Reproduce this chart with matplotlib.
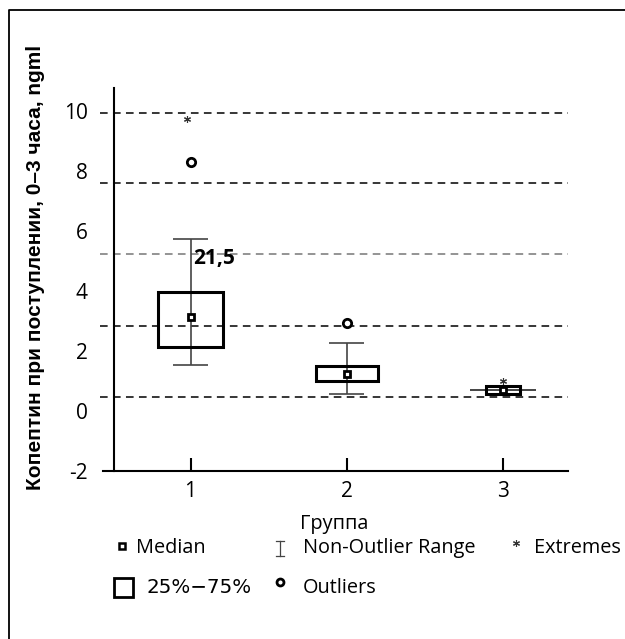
"""Копептин при поступлении по группам - box plot в стиле Statistica."""

import matplotlib

matplotlib.use("Agg")
import matplotlib.pyplot as plt
from matplotlib.patches import Rectangle

plt.rcParams["font.family"] = ["Open Sans", "DejaVu Sans"]

# --- данные ---
GROUPS = [1, 2, 3]
MEDIAN = [3.14, 1.24, 0.70]
Q1 = [2.14, 1.00, 0.57]
Q3 = [3.98, 1.51, 0.84]
WHISK_LO = [1.54, 0.57, 0.70]
WHISK_HI = [5.75, 2.27, 0.70]
OUTLIERS = [[8.29], [2.94], []]
EXTREMES = [[9.73], [], [1.00]]

Y_TICKS = [10, 8, 6, 4, 2, 0, -2]
Y_TICK_LABELS = ["10", "8", "6", "4", "2", "0", "-2"]
GRID_Y = [9.93, 7.59, 5.22, 2.84, 0.47]

ANNOT_TEXT = "21,5"
ANNOT_X = 1.016
ANNOT_Y = 5.08

Y_LABEL = "Копептин при поступлении, 0–3 часа, ngml"
X_LABEL = "Группа"

# стиль (не данные)
BOX_W = [0.41, 0.40, 0.22]
CAP_W = [0.224, 0.224, 0.42]
EXT_DX = [-0.02, 0.0, 0.0]
GRID_COLORS = ["black", "black", "#777777", "black", "black"]


def draw_boxes(ax):
    for i, x in enumerate(GROUPS):
        # вертикальная линия усов проходит сквозь ящик
        ax.vlines(x, WHISK_LO[i], WHISK_HI[i], color="#444444", lw=1.2, zorder=2)
        for yv in (WHISK_LO[i], WHISK_HI[i]):
            ax.hlines(yv, x - CAP_W[i] / 2, x + CAP_W[i] / 2,
                      color="#444444", lw=1.2, zorder=2)
        ax.add_patch(Rectangle((x - BOX_W[i] / 2, Q1[i]), BOX_W[i], Q3[i] - Q1[i],
                               fill=False, edgecolor="black", lw=2.2, zorder=3))
        ax.plot(x, MEDIAN[i], marker="s", ms=5, mew=2, mec="black", mfc="white",
                ls="none", zorder=4)
        if OUTLIERS[i]:
            ax.plot([x] * len(OUTLIERS[i]), OUTLIERS[i], marker="o", ms=6, mew=2,
                    mec="black", mfc="white", ls="none", zorder=4)
        if EXTREMES[i]:
            ax.plot([x + EXT_DX[i]] * len(EXTREMES[i]), EXTREMES[i],
                    marker=(6, 2, 0), ms=5, mew=0.8, color="#333333",
                    ls="none", zorder=4)


def draw_legend(fig):
    # легенда в пиксельных координатах всей картинки
    lg = fig.add_axes([0, 0, 1, 1])
    lg.set_xlim(0, 625)
    lg.set_ylim(639, 0)
    lg.axis("off")

    # рамка слева и сверху
    lg.plot([9, 9, 625], [639, 10, 10], color="black", lw=1.3, clip_on=False)

    fs = 14.3
    lg.plot(121.5, 546, marker="s", ms=4.5, mew=1.8, mec="black", mfc="white")
    lg.text(136, 553, "Median", fontsize=fs, va="baseline")

    lg.plot([280, 280], [541, 556], color="#444444", lw=0.9)
    lg.plot([276, 284], [541, 541], color="#444444", lw=0.9)
    lg.plot([276, 284], [556, 556], color="#444444", lw=0.9)
    lg.text(303, 553, "Non-Outlier Range", fontsize=fs, va="baseline")

    lg.plot(516, 543, marker=(6, 2, 0), ms=5, mew=0.8, color="#333333")
    lg.text(534, 553, "Extremes", fontsize=fs, va="baseline")

    lg.add_patch(Rectangle((114, 578), 19, 19, fill=False, edgecolor="black", lw=2))
    lg.text(146, 593, "25%−75%", fontsize=fs, va="baseline",
            family=["DejaVu Sans"])

    lg.plot(280, 582, marker="o", ms=5, mew=2, mec="black", mfc="white")
    lg.text(303, 593, "Outliers", fontsize=fs, va="baseline")


def main() -> None:
    fig = plt.figure(figsize=(6.25, 6.39), dpi=100)
    ax = fig.add_axes([0.16, 0.2629, 0.7488, 0.5994])
    ax.set_xlim(0.4208, 3.416)
    ax.set_ylim(-2, 10.77)

    ax.hlines(GRID_Y, 0.4208, 3.416, colors=GRID_COLORS, lw=1.1,
              linestyles=[(0, (5, 3.5))], zorder=1)

    draw_boxes(ax)

    ax.text(ANNOT_X, ANNOT_Y, ANNOT_TEXT, fontsize=15, fontweight="bold",
            va="center", ha="left", zorder=5)

    for s in ("top", "right"):
        ax.spines[s].set_visible(False)
    ax.spines["left"].set_position(("data", 0.5104))
    ax.spines["bottom"].set_bounds(0.44, 3.416)
    ax.spines["left"].set_linewidth(1.5)
    ax.spines["bottom"].set_linewidth(1.5)

    ax.set_xticks(GROUPS)
    ax.set_xticklabels([str(g) for g in GROUPS])
    ax.set_yticks(Y_TICKS)
    ax.set_yticklabels(Y_TICK_LABELS)
    ax.tick_params(axis="x", direction="in", length=9.5, width=1.5, pad=7,
                   labelsize=15)
    ax.tick_params(axis="y", length=0, pad=19, labelsize=15)

    ax.set_xlabel(X_LABEL, fontsize=14.3, labelpad=8.5)
    fig.text(36 / 625, 1 - 267 / 639, Y_LABEL, rotation=90, fontsize=15,
             fontweight="bold", family=["Liberation Sans", "DejaVu Sans"],
             ha="center", va="center")

    draw_legend(fig)

    fig.savefig("out.png", dpi=100)
    plt.close(fig)


if __name__ == "__main__":
    main()
